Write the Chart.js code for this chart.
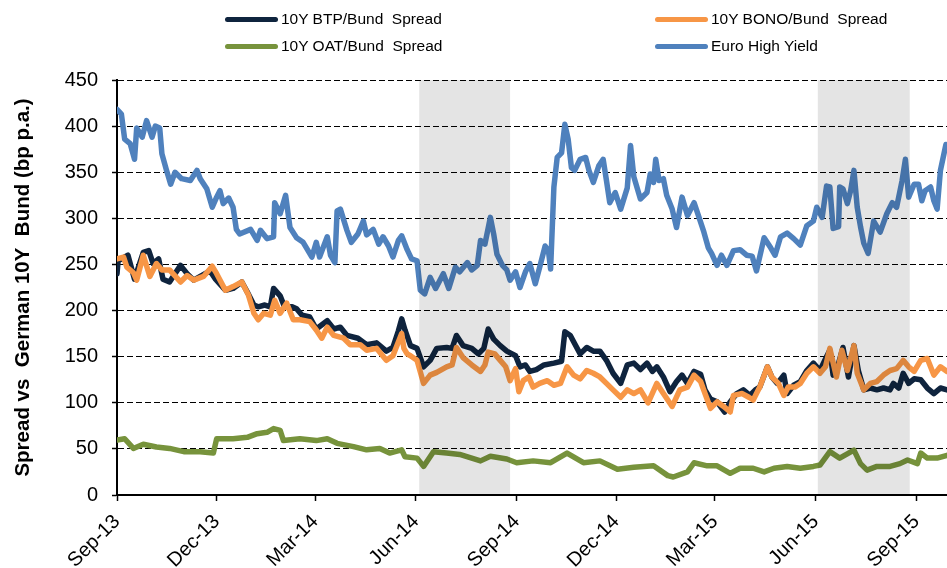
<!DOCTYPE html>
<html><head><meta charset="utf-8">
<script src="https://cdn.jsdelivr.net/npm/chart.js@4.4.1/dist/chart.umd.min.js"></script>
<style>
html,body{margin:0;padding:0;background:#fff;}
#wrap{position:relative;width:947px;height:568px;}
#legend{position:absolute;left:0;top:0;width:947px;height:70px;font-family:"Liberation Sans",Arial,sans-serif;font-size:15.5px;color:#000;}
.item{position:absolute;height:20px;display:flex;align-items:center;white-space:pre;}
.swatch{display:inline-block;width:53px;height:5px;border-radius:3px;margin-right:3px;}
</style></head>
<body><div id="wrap"><canvas id="c" width="947" height="568"></canvas><div id="legend"></div></div>
<script>
// x values are days since 2013-09-01
const tickDay = [0, 91, 181, 273, 365, 456, 546, 638, 730];
const tickLabel = ["Sep-13","Dec-13","Mar-14","Jun-14","Sep-14","Dec-14","Mar-15","Jun-15","Sep-15"];
const shadeStart = [276, 640];
const shadeEnd = [359, 724];

const btpDay = [0,1,10,16,24,29,33,38,42,48,58,64,70,76,85,90,99,106,114,119,125,129,135,140,143,149,153,160,164,169,176,182,192,198,204,210,220,228,237,246,252,257,260,263,268,274,280,286,292,301,306,310,316,324,330,335,339,344,350,356,364,368,373,377,383,390,399,406,409,414,418,423,429,435,441,447,453,460,466,472,478,484,489,493,499,505,511,516,521,527,533,537,542,548,555,560,566,572,578,583,587,594,598,603,609,612,618,624,630,636,642,648,651,654,659,663,668,673,677,682,688,694,700,706,709,714,718,723,728,734,740,746,752,758];
const btpVal = [240,254,260,234,263,265,251,256,234,231,249,240,233,237,243,234,222,224,231,220,206,204,206,204,224,216,204,204,202,195,193,180,189,180,182,173,170,163,165,156,160,178,191,179,162,159,139,146,159,160,159,173,162,159,153,159,180,169,162,156,151,139,141,134,136,141,143,145,177,173,164,153,160,156,156,146,132,121,141,143,136,143,134,139,128,112,123,130,121,134,131,114,104,101,90,101,110,114,108,114,117,139,128,121,130,110,119,123,135,143,135,150,157,130,143,160,128,162,135,114,116,114,116,114,121,116,132,121,126,125,116,110,116,114];

const bonoDay = [0,6,9,15,18,24,30,36,41,48,58,64,70,79,87,91,99,106,114,120,125,129,134,140,144,149,155,161,167,176,182,187,192,198,207,213,222,228,237,246,252,260,262,265,268,274,280,286,292,301,306,310,316,324,332,336,339,345,350,355,359,364,367,371,376,380,386,393,399,405,411,417,423,429,435,441,447,453,460,466,472,478,485,493,499,507,514,521,527,533,537,542,548,554,560,563,571,577,581,587,594,598,604,609,613,619,624,630,636,642,647,651,657,662,667,673,676,682,688,694,700,706,712,718,723,728,734,740,746,752,758];
const bonoVal = [256,258,247,241,233,260,237,251,244,244,231,238,233,237,248,240,222,226,231,217,197,190,197,195,211,197,208,190,190,188,179,170,182,173,170,163,163,157,159,146,151,175,159,153,151,146,121,130,133,139,141,160,149,141,134,141,155,153,146,139,124,137,112,124,128,117,121,124,119,121,139,130,126,135,132,128,121,114,106,114,110,114,100,121,110,96,114,117,130,123,110,94,101,96,90,108,110,106,103,117,139,128,121,108,117,117,121,132,139,132,139,159,128,157,135,162,132,114,121,123,130,135,137,146,139,134,146,148,130,139,134];

const oatDay = [0,7,15,24,36,48,61,76,88,91,106,119,128,137,143,149,152,167,182,192,201,216,228,240,249,260,263,274,280,289,301,313,332,341,356,365,380,396,411,426,441,457,472,490,503,508,521,527,539,548,560,569,581,591,600,612,624,636,642,651,660,673,679,685,694,706,715,722,731,734,740,749,758];
const oatVal = [59.5,61,50.5,55,52,50.5,47,47,45.5,61,61,62.5,66.5,68,72,70,59,61,59,61,56,52.5,49,50.5,45.5,49,41.5,40,31,47,45.5,44,37,42,39,35,37,35,45.5,35,37,28,30,31.6,21,19.5,25,35,31.6,31.6,23.5,29,29,25,29,31,29,31,32.5,47,40,48.7,34,27,31,31,34,38,34,45.5,40,40,43];

const hyDay = [0,4,7,12,16,18,23,27,32,35,39,41,45,49,53,59,67,73,76,82,87,91,94,97,102,106,109,112,122,128,131,137,143,144,149,154,158,164,170,178,182,185,192,195,199,201,204,210,214,220,225,228,234,239,243,248,252,257,260,265,269,274,277,281,286,291,298,303,309,313,320,324,329,332,336,341,344,347,352,356,359,364,368,373,377,382,386,391,394,396,399,402,406,409,412,415,418,423,428,431,435,440,444,447,450,455,460,466,469,472,478,484,487,490,492,495,499,502,507,511,516,521,527,531,536,540,543,548,552,557,563,569,575,580,584,591,597,601,606,612,618,624,630,636,639,644,648,651,654,659,660,663,667,670,673,676,679,682,686,691,697,703,708,712,717,720,723,728,732,735,738,743,746,749,752,757];
const hyVal = [418,413,386,381,364,398,388,406,388,400,398,370,353,337,350,343,341,352,343,332,312,323,330,316,322,312,288,283,288,276,287,278,280,317,305,325,290,279,274,258,274,258,280,260,252,308,310,287,274,283,297,282,288,272,280,270,258,276,281,266,256,254,222,218,236,224,240,224,247,242,252,244,249,276,272,301,283,261,249,244,233,242,225,242,251,229,247,270,265,245,334,366,371,402,386,355,352,364,366,352,339,357,364,341,317,328,310,333,379,345,321,328,348,339,364,341,343,325,310,290,323,303,317,303,285,268,262,249,260,249,265,266,260,259,243,279,268,260,280,284,278,271,292,297,312,301,335,334,289,291,334,332,316,330,352,312,291,273,262,297,285,305,317,312,341,364,323,337,337,319,330,334,319,310,352,380];

const FONT = '"Liberation Sans", Arial, sans-serif';
const pts = (d, v) => d.map((x, i) => ({x: x, y: v[i]}));
const mk = (label, d, v, color, order) => ({
  label, data: pts(d, v), borderColor: color, backgroundColor: color,
  borderWidth: 5.5, pointRadius: 0, tension: 0, borderJoinStyle: 'round', borderCapStyle: 'round', order
});

const datasets = [
  mk('10Y BTP/Bund  Spread', btpDay, btpVal, '#0f243e', 3),
  mk('10Y BONO/Bund  Spread', bonoDay, bonoVal, '#f79646', 2),
  mk('10Y OAT/Bund  Spread', oatDay, oatVal, '#77933c', 4),
  mk('Euro High Yield', hyDay, hyVal, '#4f81bd', 1)
];

const shadePlugin = {
  id: 'shade',
  afterDatasetsDraw(chart) {
    const {ctx, chartArea, scales} = chart;
    const x = scales.x;
    ctx.save();
    ctx.fillStyle = 'rgba(0,0,0,0.105)';
    shadeStart.forEach((s, i) => {
      const x0 = x.getPixelForValue(s), x1 = x.getPixelForValue(shadeEnd[i]);
      ctx.fillRect(x0, chartArea.top, x1 - x0, chartArea.bottom - chartArea.top - 1);
    });
    ctx.restore();
  }
};

const chart = new Chart(document.getElementById('c'), {
  type: 'line',
  data: { datasets },
  options: {
    responsive: false, animation: false, devicePixelRatio: 1,
    layout: { padding: { top: 80, left: 0, right: 0, bottom: 0 } },
    plugins: { legend: { display: false }, tooltip: { enabled: false } },
    scales: {
      x: {
        type: 'linear', min: 0, max: 758,
        afterBuildTicks: s => { s.ticks = tickDay.map(v => ({ value: v })); },
        afterFit: s => { s.height = 73; },
        grid: { drawOnChartArea: false, drawTicks: true, tickLength: 6, tickColor: '#000', tickWidth: 1.5, tickBorderDash: [] },
        border: { display: true, color: '#000', width: 2 },
        ticks: {
          autoSkip: false, maxRotation: 45, minRotation: 45, padding: 9, color: '#000',
          font: { family: FONT, size: 20 },
          callback: v => { const i = tickDay.indexOf(v); return i >= 0 ? tickLabel[i] : ''; }
        }
      },
      y: {
        min: 0, max: 450,
        afterFit: s => { s.width = 117; },
        ticks: { stepSize: 50, padding: 14, color: '#000', font: { family: FONT, size: 20 } },
        grid: {
          color: c => (c.tick && c.tick.value === 0) ? 'rgba(0,0,0,0)' : '#000',
          lineWidth: 1, tickLength: 5, tickColor: '#000', tickWidth: 1.5, tickBorderDash: []
        },
        border: { display: true, color: '#000', width: 2, dash: [6, 3] },
        title: {
          display: true, text: 'Spread vs  German 10Y  Bund (bp p.a.)', color: '#000',
          font: { family: FONT, size: 20.5, weight: 'bold' }, padding: { top: 11, bottom: 0 }
        }
      }
    }
  },
  plugins: [shadePlugin]
});

// HTML legend built from the datasets (2 x 2 layout)
const legendPos = [[225, 9], [655, 9], [225, 36], [655, 36]];
const leg = document.getElementById('legend');
chart.data.datasets.forEach((ds, i) => {
  const it = document.createElement('div');
  it.className = 'item';
  it.style.left = legendPos[i][0] + 'px';
  it.style.top = legendPos[i][1] + 'px';
  const sw = document.createElement('span');
  sw.className = 'swatch';
  sw.style.background = ds.borderColor;
  const tx = document.createElement('span');
  tx.textContent = ds.label;
  it.appendChild(sw); it.appendChild(tx);
  leg.appendChild(it);
});
</script>
</body></html>
